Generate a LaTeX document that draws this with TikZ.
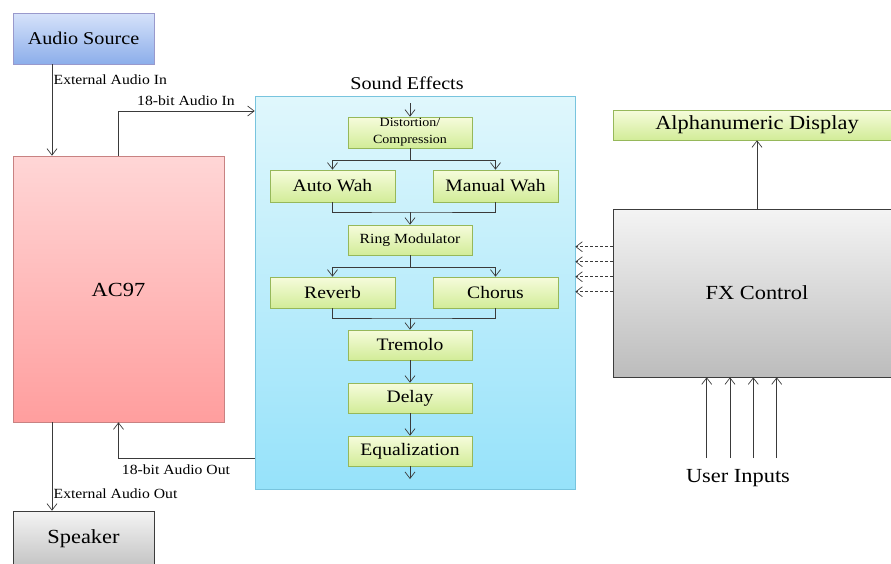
\documentclass[tikz,border=0pt]{standalone}
\usepackage{fontspec}
\setmainfont{Liberation Serif}[FakeStretch=1.12]
\usetikzlibrary{arrows.meta,shadows}
\definecolor{lnc}{HTML}{3A3A3A}
\tikzset{
  blk/.style={draw, line width=0.6pt, inner sep=0pt, drop shadow={opacity=0.25,shadow xshift=1.2pt,shadow yshift=-1.2pt}},
  bluebox/.style={blk, draw=black!50!blue!40, top color={rgb,255:red,214;green,226;blue,250}, bottom color={rgb,255:red,140;green,174;blue,234}},
  pinkbox/.style={blk, draw={rgb,255:red,200;green,130;blue,130}, top color={rgb,255:red,255;green,214;blue,214}, bottom color={rgb,255:red,255;green,158;blue,158}},
  cyanbox/.style={blk, draw={rgb,255:red,120;green,196;blue,222}, top color={rgb,255:red,224;green,247;blue,252}, bottom color={rgb,255:red,150;green,226;blue,250}},
  greenbox/.style={blk, draw={rgb,255:red,150;green,184;blue,90}, top color={rgb,255:red,246;green,252;blue,220}, bottom color={rgb,255:red,210;green,236;blue,152}},
  graybox/.style={blk, draw={rgb,255:red,60;green,60;blue,60}, top color={rgb,255:red,244;green,244;blue,244}, bottom color={rgb,255:red,188;green,188;blue,188}},
  bigtxt/.style={font=\fontsize{20}{24}\selectfont},
  midtxt/.style={font=\fontsize{17.5}{21}\selectfont},
  smltxt/.style={font=\fontsize{14}{16}\selectfont},
  fxblk/.style={greenbox, minimum width=124pt, minimum height=31pt, midtxt},
  conn/.style={draw=lnc, line width=0.7pt},
  arr/.style={conn, -{Straight Barb[length=6.5pt,width=10pt]}},
}
\begin{document}
\begin{tikzpicture}[x=1pt,y=-1pt]
\useasboundingbox (0,0) rectangle (891,563);
% main blocks
\node[bluebox, minimum width=141pt, minimum height=51pt, font=\fontsize{18}{22}\selectfont] (src) at (83.5,38.5) {Audio Source};
\node[pinkbox, minimum width=211pt, minimum height=266pt] (ac97) at (118.5,289) {};
\node[bigtxt] (ac97t) at (118.5,290) {AC97};
\node[graybox, minimum width=141pt, minimum height=64pt] (spk) at (83.5,543) {};
\node[bigtxt] (spkt) at (83.5,539) {Speaker};
\node[cyanbox, minimum width=320pt, minimum height=393pt] (sfx) at (415,292.5) {};
\node[font=\fontsize{18}{22}\selectfont] (sfxt) at (407,83) {Sound Effects};
\node[greenbox, minimum width=288pt, minimum height=30pt, bigtxt] (disp) at (757,125) {Alphanumeric Display};
\node[graybox, minimum width=288pt, minimum height=168pt, bigtxt] (fxc) at (757,293) {FX Control};
\node[bigtxt] (uin) at (738,478) {User Inputs};
% effect chain
\node[fxblk, font=\fontsize{12.5}{17}\selectfont, align=center] (dist) at (410,132.5) {Distortion/\\Compression};
\node[fxblk, minimum width=125pt, minimum height=32pt] (aw) at (332.5,186) {Auto Wah};
\node[fxblk, minimum width=125pt, minimum height=32pt] (mw) at (495.5,186) {Manual Wah};
\node[fxblk, minimum height=30pt, font=\fontsize{14}{17}\selectfont] (ring) at (410,240) {Ring Modulator};
\node[fxblk, minimum width=125pt] (rev) at (332.5,292.5) {Reverb};
\node[fxblk, minimum width=125pt] (cho) at (495.5,292.5) {Chorus};
\node[fxblk, minimum height=30pt] (trem) at (410,345) {Tremolo};
\node[fxblk, minimum height=30pt] (dly) at (410,398) {Delay};
\node[fxblk, minimum height=30pt] (eq) at (410,451) {Equalization};
% helper coordinates
\coordinate (xa) at (52,0);
\coordinate (yin) at (0,111);
\coordinate (yout) at (0,458);
\coordinate (din) at (410,103);
\coordinate (eqo) at (410,479);
\coordinate (s1) at (410,160);
\coordinate (j1) at (410,212);
\coordinate (s2) at (410,267);
\coordinate (j2) at (410,318);
% external audio
\draw[arr] (src.south -| xa) -- (ac97.north -| xa);
\node[smltxt, anchor=west, inner sep=0pt] (lein) at (53.5,80) {External Audio In};
\draw[arr] (ac97.south -| xa) -- (spk.north -| xa);
\node[smltxt, anchor=west, inner sep=0pt] (leout) at (53.5,494) {External Audio Out};
% 18-bit paths
\draw[arr] (ac97.north) |- (sfx.west |- yin);
\node[smltxt] (l18in) at (186,101) {18-bit Audio In};
\draw[arr] (sfx.west |- yout) -| (ac97.south);
\node[smltxt] (l18out) at (176,470) {18-bit Audio Out};
% chain connectors
\draw[arr] (din) -- (dist.north);
\draw[conn] (dist.south) -- (s1);
\draw[arr] (s1) -| (aw.north);
\draw[arr] (s1) -| (mw.north);
\draw[conn] (aw.south) |- (j1) -| (mw.south);
\draw[arr] (j1) -- (ring.north);
\draw[conn] (ring.south) -- (s2);
\draw[arr] (s2) -| (rev.north);
\draw[arr] (s2) -| (cho.north);
\draw[conn] (rev.south) |- (j2) -| (cho.south);
\draw[arr] (j2) -- (trem.north);
\draw[arr] (trem.south) -- (dly.north);
\draw[arr] (dly.south) -- (eq.north);
\draw[arr] (eq.south) -- (eqo);
% control
\draw[arr] (fxc.north) -- (disp.south);
\foreach \yy in {246.7,261.7,276.7,291.7}{
  \draw[arr, dashed, dash pattern=on 3pt off 2pt] (fxc.west |- 0,\yy) -- (sfx.east |- 0,\yy);
}
\foreach \xx in {706.7,730,753.3,776.7}{
  \draw[arr] (\xx,458) -- (fxc.south -| \xx,0);
}
\end{tikzpicture}
\end{document}
